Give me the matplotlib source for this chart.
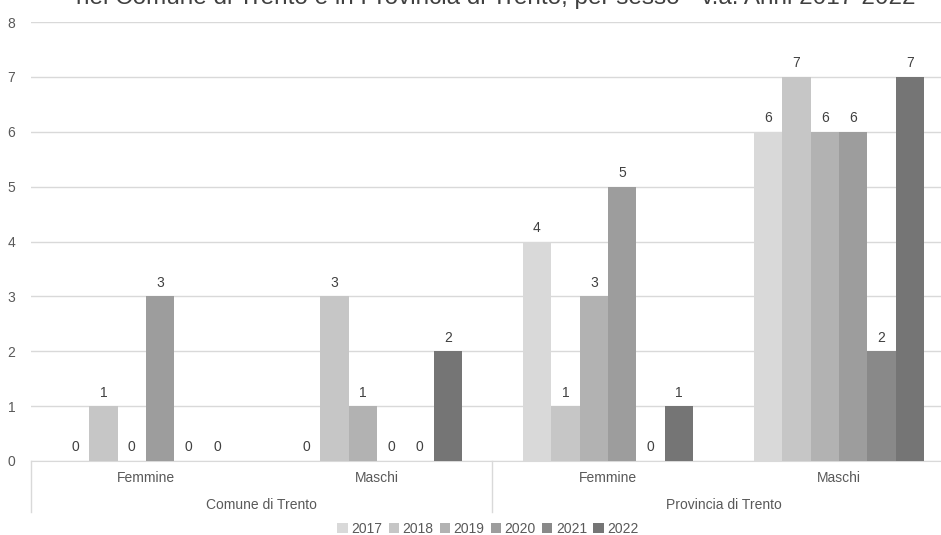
import matplotlib
matplotlib.use("Agg")
import matplotlib.pyplot as plt
import matplotlib.transforms as mtransforms
from matplotlib.patches import Patch

plt.rcParams['font.family'] = ['Liberation Sans', 'DejaVu Sans']

years = ["2017", "2018", "2019", "2020", "2021", "2022"]
sexes = ["Femmine", "Maschi", "Femmine", "Maschi"]
areas = ["Comune di Trento", "Provincia di Trento"]
values = {
    "2017": [0, 0, 4, 6],
    "2018": [1, 3, 1, 7],
    "2019": [0, 1, 3, 6],
    "2020": [3, 0, 5, 6],
    "2021": [0, 0, 0, 2],
    "2022": [0, 2, 1, 7],
}
colors = ["#d9d9d9", "#c6c6c6", "#b2b2b2", "#9d9d9d", "#898989", "#757575"]
title = "nel Comune di Trento e in Provincia di Trento, per sesso - v.a. Anni 2017-2022"


def main():
    fig = plt.figure(figsize=(9.41, 5.35), dpi=100)
    # plot area runs a bit past the right edge of the picture, as in the source
    ax = fig.add_axes([30.5 / 941, 1 - 461 / 535, 924 / 941, 439 / 535])

    width = 0.123
    for i, year in enumerate(years):
        xs = [g + (i - 2.5) * width for g in range(len(sexes))]
        bars = ax.bar(xs, values[year], width, color=colors[i], label=year, zorder=3)
        for b, v in zip(bars, values[year]):
            ax.text(b.get_x() + b.get_width() / 2, v + 0.12, str(v), ha="center",
                    va="bottom", fontsize=10, color="#404040")

    ax.set_xlim(-0.5, 3.5)
    ax.set_ylim(0, 8)
    ax.set_yticks(range(9))
    ax.set_xticks([])
    ax.tick_params(axis="y", length=0, labelsize=10, labelcolor="#595959", pad=11)
    ax.grid(axis="y", color="#d9d9d9", linewidth=1, zorder=0)
    for s in ["top", "right", "left"]:
        ax.spines[s].set_visible(False)
    ax.spines["bottom"].set_color("#d9d9d9")

    # hierarchical category axis
    trans = mtransforms.blended_transform_factory(ax.transData, ax.transAxes)
    for x in [-0.5, 1.5, 3.5]:
        ax.plot([x, x], [0, -0.116], transform=trans, color="#d9d9d9",
                linewidth=1, clip_on=False)
    for g, name in enumerate(sexes):
        ax.text(g, -0.039, name, transform=trans, ha="center", va="center",
                fontsize=10, color="#595959")
    for k, name in enumerate(areas):
        ax.text(0.5 + 2 * k, -0.1, name, transform=trans, ha="center", va="center",
                fontsize=10, color="#595959")

    handles = [Patch(facecolor=c, label=y) for c, y in zip(colors, years)]
    fig.legend(handles=handles, loc="center", bbox_to_anchor=(488 / 941, 1 - 529 / 535),
               ncol=6, frameon=False, fontsize=10, handlelength=0.75, handleheight=0.75,
               handletextpad=0.25, columnspacing=0.45, labelcolor="#595959")

    fig.text(496 / 941, 1 - 4 / 535, title, ha="center", va="baseline",
             fontsize=17.5, color="#404040")

    fig.savefig("out.png", dpi=100)


if __name__ == "__main__":
    main()
